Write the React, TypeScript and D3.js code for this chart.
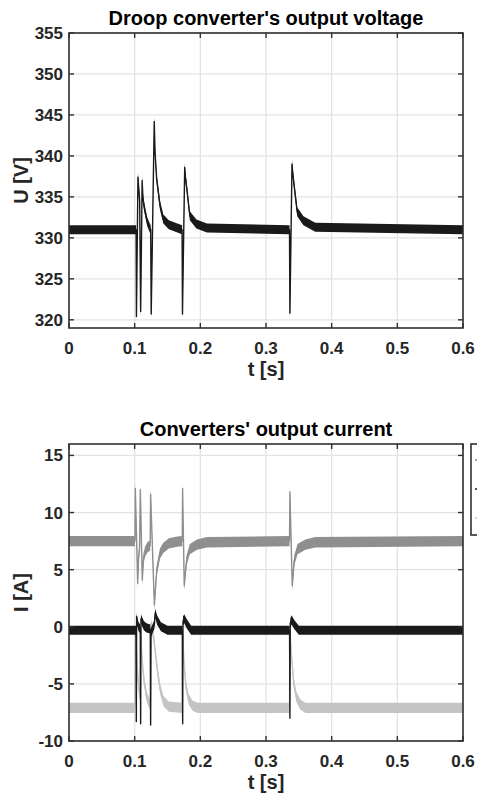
import React from "react";
import * as d3 from "d3";

const timeTicks = [0, 0.1, 0.2, 0.3, 0.4, 0.5, 0.6];
const voltTicks = [320, 325, 330, 335, 340, 345, 350, 355];
const currTicks = [-10, -5, 0, 5, 10, 15];

const voltT = [0, 0.1022, 0.1027, 0.105, 0.1058, 0.1076, 0.1091, 0.1114, 0.1125, 0.114, 0.1157, 0.119, 0.1225, 0.1244, 0.1252, 0.1298, 0.131, 0.1335, 0.1385, 0.1436, 0.152, 0.165, 0.1722, 0.1728, 0.1762, 0.1772, 0.179, 0.184, 0.194, 0.21, 0.3358, 0.3364, 0.3396, 0.3406, 0.343, 0.3475, 0.357, 0.375, 0.6];
const voltV = [331.0, 331.0, 320.4, 337.4, 336.5, 334.5, 321.0, 337.0, 335.0, 334.0, 333.3, 332.0, 331.3, 331.0, 320.7, 344.2, 340.5, 337.2, 334.0, 332.3, 331.6, 331.2, 331.0, 320.7, 338.6, 337.5, 336.3, 332.7, 331.7, 331.2, 331.0, 320.8, 339.0, 338.0, 336.3, 333.2, 332.1, 331.3, 331.0];

const grayT = [0, 0.1005, 0.101, 0.1046, 0.106, 0.1075, 0.1086, 0.1116, 0.1135, 0.116, 0.12, 0.1236, 0.1243, 0.13, 0.1335, 0.1385, 0.1436, 0.152, 0.165, 0.1725, 0.173, 0.1755, 0.179, 0.184, 0.195, 0.21, 0.3358, 0.3364, 0.34, 0.343, 0.348, 0.36, 0.375, 0.6];
const grayV = [7.5, 7.5, 12.1, 3.8, 6.0, 7.0, 12.0, 4.1, 6.0, 6.6, 7.0, 7.1, 11.6, 1.9, 4.9, 6.4, 6.9, 7.3, 7.45, 7.5, 12.1, 3.6, 5.8, 6.8, 7.2, 7.4, 7.5, 11.8, 3.6, 5.8, 6.8, 7.2, 7.4, 7.5];

const blackT = [0, 0.102, 0.1025, 0.103, 0.1036, 0.106, 0.1086, 0.1091, 0.1096, 0.111, 0.114, 0.118, 0.1238, 0.1243, 0.1248, 0.13, 0.1313, 0.134, 0.14, 0.15, 0.1726, 0.1731, 0.1736, 0.1755, 0.179, 0.186, 0.3359, 0.3364, 0.3369, 0.339, 0.343, 0.35, 0.6];
const blackV = [-0.3, -0.3, -8.3, 0.9, 0.5, 0.0, -0.2, -8.5, 0.7, 0.5, 0.1, -0.1, -0.2, -8.6, -0.5, 0.2, 1.2, 0.6, 0.0, -0.3, -0.3, -8.5, 0.5, 0.7, 0.3, -0.3, -0.3, -8.0, 0.3, 0.6, 0.2, -0.3, -0.3];

const lightT = [0, 0.1003, 0.101, 0.103, 0.105, 0.107, 0.1084, 0.109, 0.111, 0.114, 0.118, 0.123, 0.124, 0.125, 0.129, 0.132, 0.135, 0.139, 0.144, 0.152, 0.1722, 0.1729, 0.175, 0.178, 0.182, 0.188, 0.196, 0.3358, 0.3364, 0.339, 0.342, 0.346, 0.352, 0.36, 0.6];
const lightV = [-7.1, -7.1, -0.5, -2.5, -4.5, -5.8, -6.0, -0.3, -2.6, -4.6, -6.1, -6.8, -6.9, 0.3, -1.0, -2.5, -4.0, -5.5, -6.5, -7.0, -7.1, -0.2, -3.0, -5.2, -6.3, -6.9, -7.1, -7.1, -0.4, -2.6, -4.8, -6.1, -6.8, -7.1, -7.1];

const FONT = "'Liberation Sans', Arial, Helvetica, sans-serif";
const AXIS = "#303030";
const GRID = "#e3e3e3";

type Series = { t: number[]; v: number[]; color: string; noise: number };

function Panel(props: {
  top: number; bottom: number; left: number; right: number;
  yDomain: [number, number]; yTicks: number[]; title: string; ylabel: string;
  series: Series[];
}) {
  const { top, bottom, left, right, yDomain, yTicks, title, ylabel, series } = props;
  const x = d3.scaleLinear().domain([0, 0.6]).range([left, right]);
  const y = d3.scaleLinear().domain(yDomain).range([bottom, top]);
  const tl = 5;
  return (
    <g>
      {timeTicks.map((t) => (
        <line key={"gx" + t} x1={x(t)} x2={x(t)} y1={top} y2={bottom} stroke={GRID} strokeWidth={1.3} />
      ))}
      {yTicks.map((v) => (
        <line key={"gy" + v} x1={left} x2={right} y1={y(v)} y2={y(v)} stroke={GRID} strokeWidth={1.3} />
      ))}
      {series.map((s, i) => {
        const pts = s.t.map((t, k) => [t, s.v[k]] as [number, number]);
        const area = d3.area<[number, number]>()
          .x((d) => x(d[0]))
          .y0((d) => y(d[1] - s.noise))
          .y1((d) => y(d[1] + s.noise));
        const line = d3.line<[number, number]>().x((d) => x(d[0])).y((d) => y(d[1]));
        return (
          <g key={"s" + i}>
            <path d={area(pts) || ""} fill={s.color} />
            <path d={line(pts) || ""} fill="none" stroke={s.color} strokeWidth={1.4} strokeLinejoin="round" />
          </g>
        );
      })}
      <rect x={left} y={top} width={right - left} height={bottom - top} fill="none" stroke={AXIS} strokeWidth={1.6} />
      {timeTicks.map((t) => (
        <g key={"tx" + t}>
          <line x1={x(t)} x2={x(t)} y1={bottom} y2={bottom - tl} stroke={AXIS} strokeWidth={1.4} />
          <line x1={x(t)} x2={x(t)} y1={top} y2={top + tl} stroke={AXIS} strokeWidth={1.4} />
          <text x={x(t)} y={bottom + 26} textAnchor="middle" fontFamily={FONT} fontWeight="bold" fontSize={17} fill="#262626">
            {String(t)}
          </text>
        </g>
      ))}
      {yTicks.map((v) => (
        <g key={"ty" + v}>
          <line x1={left} x2={left + tl} y1={y(v)} y2={y(v)} stroke={AXIS} strokeWidth={1.4} />
          <line x1={right} x2={right - tl} y1={y(v)} y2={y(v)} stroke={AXIS} strokeWidth={1.4} />
          <text x={left - 6} y={y(v) + 6} textAnchor="end" fontFamily={FONT} fontWeight="bold" fontSize={17} fill="#262626">
            {String(v)}
          </text>
        </g>
      ))}
      <text x={(left + right) / 2} y={top - 8} textAnchor="middle" fontFamily={FONT} fontWeight="bold" fontSize={20} fill="#000">
        {title}
      </text>
      <text x={(left + right) / 2} y={bottom + 48} textAnchor="middle" fontFamily={FONT} fontWeight="bold" fontSize={20} fill="#262626">
        t [s]
      </text>
      <text transform={`translate(${left - 41},${(top + bottom) / 2}) rotate(-90)`} textAnchor="middle" fontFamily={FONT} fontWeight="bold" fontSize={20} fill="#262626">
        {ylabel}
      </text>
    </g>
  );
}

export default function App() {
  const left = 69;
  const right = 463;
  const legendY = [460, 489, 518];
  const legendColors = ["#8f8f8f", "#1a1a1a", "#c4c4c4"];
  return (
    <svg width={477} height={797} style={{ position: "absolute", left: 0, top: 0, background: "#fff" }}>
      <rect x={0} y={0} width={477} height={797} fill="#fff" />
      <Panel
        top={33} bottom={328} left={left} right={right}
        yDomain={[319, 355]} yTicks={voltTicks}
        title="Droop converter's output voltage" ylabel="U [V]"
        series={[{ t: voltT, v: voltV, color: "#1a1a1a", noise: 0.55 }]}
      />
      <Panel
        top={444} bottom={741} left={left} right={right}
        yDomain={[-10, 16]} yTicks={currTicks}
        title="Converters' output current" ylabel="I [A]"
        series={[
          { t: grayT, v: grayV, color: "#8f8f8f", noise: 0.45 },
          { t: lightT, v: lightV, color: "#c4c4c4", noise: 0.45 },
          { t: blackT, v: blackV, color: "#1a1a1a", noise: 0.4 },
        ]}
      />
      <rect x={471} y={444} width={60} height={91} fill="#fff" stroke={AXIS} strokeWidth={1.6} />
      {legendY.map((ly, i) => (
        <line key={"lg" + i} x1={475} x2={500} y1={ly} y2={ly} stroke={legendColors[i]} strokeWidth={1.4} />
      ))}
    </svg>
  );
}
